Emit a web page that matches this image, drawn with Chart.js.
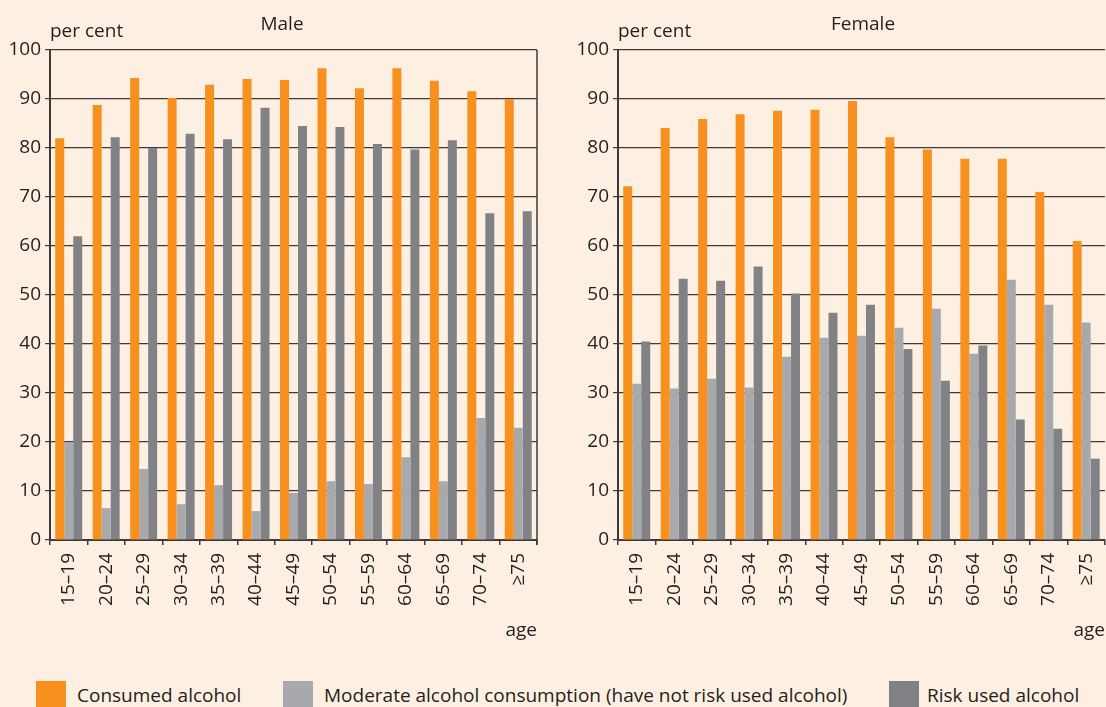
<!DOCTYPE html>
<html><head><meta charset="utf-8">
<script src="https://cdn.jsdelivr.net/npm/chart.js@4.4.1/dist/chart.umd.min.js"></script>
<style>
html,body{margin:0;padding:0;background:#fdf0e2;}
body{width:1106px;height:707px;position:relative;overflow:hidden;font-family:"Open Sans",sans-serif;color:#231f20;}
#c1{position:absolute;left:0;top:0;}
#c2{position:absolute;left:568px;top:0;}
.sw{position:absolute;top:681px;width:30px;height:26px;}
.lt{position:absolute;top:682px;font-size:19px;line-height:26px;white-space:nowrap;}
</style>
</head><body>
<canvas id="c1" width="550" height="640"></canvas>
<canvas id="c2" width="549" height="640"></canvas>
<div class="sw" style="left:36px;background:#f7901e"></div><div class="lt" style="left:77px">Consumed alcohol</div>
<div class="sw" style="left:283px;background:#a7a9ac"></div><div class="lt" style="left:324px">Moderate alcohol consumption (have not risk used alcohol)</div>
<div class="sw" style="left:889px;background:#808285"></div><div class="lt" style="left:927px">Risk used alcohol</div>
<script>
const ageGroups = ['15–19','20–24','25–29','30–34','35–39','40–44','45–49','50–54','55–59','60–64','65–69','70–74','≥75'];
const seriesNames = ['Consumed alcohol','Moderate alcohol consumption (have not risk used alcohol)','Risk used alcohol'];
const maleConsumed = [82, 88.8, 94.3, 90.2, 92.9, 94.1, 93.9, 96.3, 92.2, 96.3, 93.7, 91.6, 90];
const maleModerate = [20, 6.5, 14.5, 7.3, 11.2, 5.9, 9.6, 12, 11.4, 16.9, 12, 24.9, 22.9];
const maleRisk = [62, 82.2, 80, 82.9, 81.8, 88.2, 84.5, 84.3, 80.8, 79.7, 81.6, 66.7, 67.1];
const femaleConsumed = [72.2, 84.1, 85.9, 86.9, 87.6, 87.8, 89.6, 82.2, 79.7, 77.8, 77.8, 71, 61];
const femaleModerate = [31.9, 30.9, 32.9, 31.1, 37.4, 41.3, 41.7, 43.3, 47.2, 38.0, 53.1, 48.0, 44.4];
const femaleRisk = [40.5, 53.3, 52.9, 55.8, 50.3, 46.4, 48.0, 39.0, 32.5, 39.7, 24.6, 22.7, 16.6];
const yMin = 0, yMax = 100, yStep = 10;

const colors = ['#f7901e','#a7a9ac','#808285'];
const textColor = '#231f20';
const FONT = '"Open Sans", sans-serif';

const textPlugin = {
  id: 'panelText',
  afterDraw(chart, args, opts) {
    const {ctx, chartArea} = chart;
    ctx.save();
    ctx.fillStyle = textColor;
    ctx.font = '19px ' + FONT;
    ctx.textBaseline = 'alphabetic';
    ctx.textAlign = 'left';
    ctx.fillText('per cent', chartArea.left, 37);
    ctx.textAlign = 'center';
    ctx.fillText(opts.title, opts.titleX, 30);
    ctx.textAlign = 'right';
    ctx.fillText('age', Math.min(chartArea.right, opts.ageMaxX), 636);
    if (opts.rightBorder) {
      ctx.strokeStyle = '#3f3a3a';
      ctx.lineWidth = 1.5;
      ctx.beginPath();
      ctx.moveTo(chartArea.right, chartArea.top);
      ctx.lineTo(chartArea.right, chartArea.bottom + 5);
      ctx.stroke();
    }
    ctx.restore();
  }
};

function makeChart(id, title, titleX, values, padRight, rightBorder, ageMaxX) {
  return new Chart(document.getElementById(id), {
    type: 'bar',
    data: {
      labels: ageGroups,
      datasets: values.map((v, i) => ({
        label: seriesNames[i],
        data: v,
        backgroundColor: colors[i],
        borderWidth: 0,
        categoryPercentage: 0.72,
        barPercentage: 1.0
      }))
    },
    options: {
      responsive: false,
      animation: false,
      layout: {padding: {top: 50, right: padRight, left: 0, bottom: 0}},
      plugins: {
        legend: {display: false},
        tooltip: {enabled: false},
        panelText: {title: title, titleX: titleX, rightBorder: rightBorder, ageMaxX: ageMaxX}
      },
      scales: {
        x: {
          offset: true,
          grid: {offset: true, drawOnChartArea: false, drawTicks: true, tickLength: 5, color: '#3f3a3a', lineWidth: 1.5},
          border: {display: true, color: '#3f3a3a', width: 2},
          ticks: {minRotation: 90, maxRotation: 90, autoSkip: false, padding: 8, color: textColor, font: {family: FONT, size: 19}},
          afterFit: s => { s.height = 100; }
        },
        y: {
          min: yMin, max: yMax,
          ticks: {stepSize: yStep, padding: 4, color: textColor, font: {family: FONT, size: 19}},
          grid: {color: '#3f3a3a', lineWidth: 1.2, tickLength: 5},
          border: {display: true, color: '#3f3a3a', width: 2},
          afterFit: s => { s.width = 50; }
        }
      }
    },
    plugins: [textPlugin]
  });
}

makeChart('c1', 'Male', 282, [maleConsumed, maleModerate, maleRisk], 13, true, 1000);
makeChart('c2', 'Female', 295, [femaleConsumed, femaleModerate, femaleRisk], 0, false, 537);
</script>
</body></html>
